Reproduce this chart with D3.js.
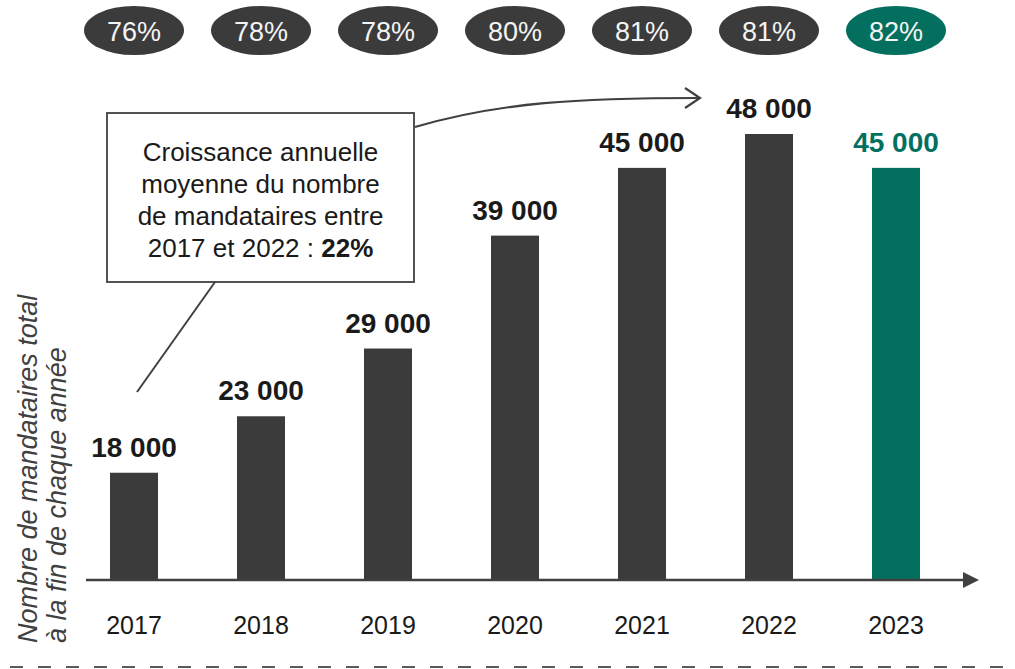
<!DOCTYPE html>
<html lang="fr">
<head>
<meta charset="utf-8">
<script src="https://cdn.jsdelivr.net/npm/d3@7"></script>
<style>
  html, body { margin: 0; padding: 0; background: #fff; }
  svg { display: block; font-family: "Liberation Sans", Arial, sans-serif; }
</style>
</head>
<body>
<svg id="chart" width="1015" height="669"></svg>
<script>
'use strict';

/* ── data ───────────────────────────────────────── */
const years = ['2017', '2018', '2019', '2020', '2021', '2022', '2023'];
const counts = [18000, 23000, 29000, 39000, 45000, 48000, 45000];
const shares = ['76%', '78%', '78%', '80%', '81%', '81%', '82%'];
const highlightYear = '2023';
const boxLines = ['Croissance annuelle', 'moyenne du nombre', 'de mandataires entre'];
const boxLast = ['2017 et 2022 : ', '22%'];
const yTitle = ['Nombre de mandataires total', 'à la fin de chaque année'];

/* ── style ──────────────────────────────────────── */
const DARK = '#3b3b3b';
const TEAL = '#03705f';
const INK = '#1a1a1a';

const W = 1015, H = 669;
const base = 580;

const svg = d3.select('#chart');

const x = d3.scaleBand()
  .domain(years)
  .range([46.5, 983.5])
  .paddingInner(0.622)
  .paddingOuter(0.5);

// truncated origin, as on the original slide
const y = d3.scaleLinear()
  .domain([8500, d3.max(counts)])
  .range([base, 134]);

const colorOf = yr => yr === highlightYear ? TEAL : DARK;
const cx = yr => x(yr) + x.bandwidth() / 2;

/* bars */
svg.append('g')
  .selectAll('rect')
  .data(years)
  .join('rect')
  .attr('x', d => x(d))
  .attr('width', x.bandwidth())
  .attr('y', (d, i) => y(counts[i]))
  .attr('height', (d, i) => base - y(counts[i]))
  .attr('fill', colorOf);

/* value labels */
svg.append('g')
  .selectAll('text')
  .data(years)
  .join('text')
  .attr('x', cx)
  .attr('y', (d, i) => y(counts[i]) - 16)
  .attr('text-anchor', 'middle')
  .attr('font-size', 28)
  .attr('font-weight', 'bold')
  .attr('fill', d => d === highlightYear ? TEAL : INK)
  .text((d, i) => d3.format(',')(counts[i]).replace(/,/g, ' '));

/* axis with arrow */
svg.append('defs').append('marker')
  .attr('id', 'tri')
  .attr('viewBox', '0 0 10 10')
  .attr('refX', 0).attr('refY', 5)
  .attr('markerWidth', 16).attr('markerHeight', 16)
  .attr('markerUnits', 'userSpaceOnUse')
  .attr('orient', 'auto')
  .append('path')
  .attr('d', 'M0,0 L10,5 L0,10 Z')
  .attr('fill', '#404040');

svg.append('line')
  .attr('x1', 86).attr('x2', 963)
  .attr('y1', base).attr('y2', base)
  .attr('stroke', '#404040')
  .attr('stroke-width', 2.5)
  .attr('marker-end', 'url(#tri)');

/* year labels */
svg.append('g')
  .selectAll('text')
  .data(years)
  .join('text')
  .attr('x', cx)
  .attr('y', 634)
  .attr('text-anchor', 'middle')
  .attr('font-size', 25)
  .attr('fill', INK)
  .text(d => d);

/* share pills */
const pill = svg.append('g')
  .selectAll('g')
  .data(years)
  .join('g')
  .attr('transform', d => `translate(${cx(d)},30.5)`);

pill.append('ellipse')
  .attr('rx', 50).attr('ry', 24.5)
  .attr('fill', d => d === highlightYear ? TEAL : DARK);

pill.append('text')
  .attr('y', 10)
  .attr('text-anchor', 'middle')
  .attr('font-size', 27)
  .attr('fill', '#f4f4f4')
  .text((d, i) => shares[i]);

/* y title */
const yt = svg.append('text')
  .attr('transform', 'translate(37,643) rotate(-90)')
  .attr('font-size', 27)
  .attr('font-style', 'italic')
  .attr('fill', '#404040');
yTitle.forEach((t, i) => {
  yt.append('tspan').attr('x', 0).attr('dy', i ? 29 : 0).text(t);
});

/* annotation box */
svg.append('path')
  .attr('d', 'M215,282 L137,392')
  .attr('fill', 'none')
  .attr('stroke', '#404040')
  .attr('stroke-width', 2);

svg.append('path')
  .attr('d', 'M415,127 C500,102 580,98 699,98')
  .attr('fill', 'none')
  .attr('stroke', '#404040')
  .attr('stroke-width', 2.2);

svg.append('path')
  .attr('d', 'M685,88 L700,98 L685,108')
  .attr('fill', 'none')
  .attr('stroke', '#404040')
  .attr('stroke-width', 2.2);

svg.append('rect')
  .attr('x', 107).attr('y', 113)
  .attr('width', 307).attr('height', 169)
  .attr('fill', '#fff')
  .attr('stroke', '#404040')
  .attr('stroke-width', 1.8);

const bt = svg.append('text')
  .attr('text-anchor', 'middle')
  .attr('font-size', 26)
  .attr('fill', INK);
boxLines.forEach((t, i) => {
  bt.append('tspan').attr('x', 260.5).attr('y', 161 + i * 32).text(t);
});
const last = bt.append('tspan').attr('x', 260.5).attr('y', 257);
last.append('tspan').text(boxLast[0]);
last.append('tspan').attr('font-weight', 'bold').text(boxLast[1]);

/* dashed rule at the bottom */
svg.append('line')
  .attr('x1', -18).attr('x2', W)
  .attr('y1', 667).attr('y2', 667)
  .attr('stroke', '#5a5a5a')
  .attr('stroke-width', 2)
  .attr('stroke-dasharray', '13,15');
</script>
</body>
</html>
